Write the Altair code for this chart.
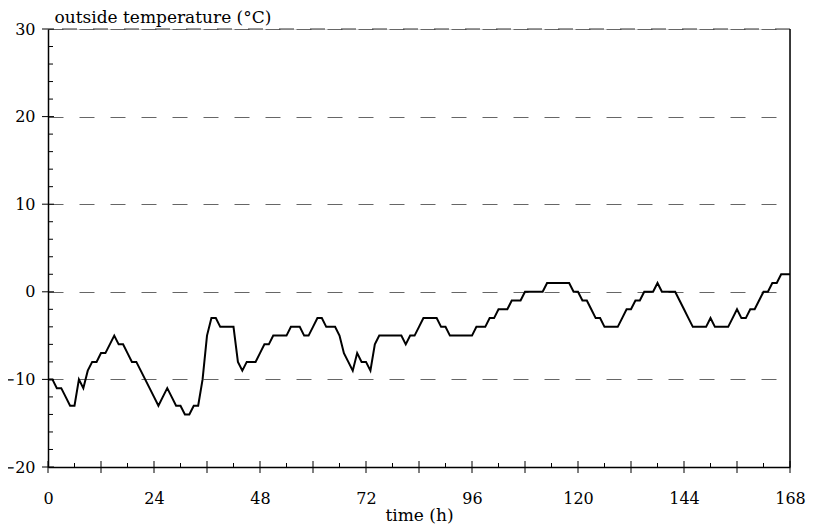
import altair as alt
import pandas as pd

# hourly outside temperature (°C), hours 0..168
hours = list(range(169))
temps = [
    -10, -10, -11, -11, -12, -13, -13, -10, -11, -9,
    -8, -8, -7, -7, -6, -5, -6, -6, -7, -8,
    -8, -9, -10, -11, -12, -13, -12, -11, -12, -13,
    -13, -14, -14, -13, -13, -10, -5, -3, -3, -4,
    -4, -4, -4, -8, -9, -8, -8, -8, -7, -6,
    -6, -5, -5, -5, -5, -4, -4, -4, -5, -5,
    -4, -3, -3, -4, -4, -4, -5, -7, -8, -9,
    -7, -8, -8, -9, -6, -5, -5, -5, -5, -5,
    -5, -6, -5, -5, -4, -3, -3, -3, -3, -4,
    -4, -5, -5, -5, -5, -5, -5, -4, -4, -4,
    -3, -3, -2, -2, -2, -1, -1, -1, 0, 0,
    0, 0, 0, 1, 1, 1, 1, 1, 1, 0,
    0, -1, -1, -2, -3, -3, -4, -4, -4, -4,
    -3, -2, -2, -1, -1, 0, 0, 0, 1, 0,
    0, 0, 0, -1, -2, -3, -4, -4, -4, -4,
    -3, -4, -4, -4, -4, -3, -2, -3, -3, -2,
    -2, -1, 0, 0, 1, 1, 2, 2, 2,
]

x_labels = [0, 24, 48, 72, 96, 120, 144, 168]
x_major = [0, 12, 24, 36, 48, 60, 72, 84, 96, 108, 120, 132, 144, 156, 168]
x_minor = [6, 18, 30, 42, 54, 66, 78, 90, 102, 114, 126, 138, 150, 162]
y_labels = [-20, -10, 0, 10, 20, 30]
y_minor = [-18, -16, -14, -12, -8, -6, -4, -2, 2, 4, 6, 8, 12, 14, 16, 18, 22, 24, 26, 28]

W, H = 742, 438
FONT = "DejaVu Serif"

xscale = alt.Scale(domain=[0, 168], nice=False, zero=False)
yscale = alt.Scale(domain=[-20, 30], nice=False, zero=False)

x_axis = alt.Axis(
    values=x_labels, title="time (h)", grid=False, ticks=False, tickSize=0,
    labelPadding=36, labelBaseline="alphabetic", labelFont=FONT, labelFontSize=16,
    labelColor="black", titleFont=FONT, titleFontSize=17, titleFontWeight="normal",
    titleColor="black", titleY=53, titleBaseline="alphabetic",
    domainColor="black", domainWidth=1.5, labelFlush=False)
y_axis = alt.Axis(
    values=y_labels, title="outside temperature (°C)", grid=True, gridColor="#666",
    gridDash=[15, 16], gridWidth=1, ticks=False, tickSize=0, labelPadding=13,
    labelFont=FONT, labelFontSize=16, labelColor="black", titleFont=FONT,
    titleFontSize=17, titleFontWeight="normal", titleColor="black", titleAngle=0,
    titleAlign="left", titleBaseline="alphabetic", titleX=6, titleY=-7,
    domainColor="black", domainWidth=1.5, labelFlush=False)

df = pd.DataFrame({"hour": hours, "temp": temps})

line = alt.Chart(df).mark_line(color="black", strokeWidth=2).encode(
    x=alt.X("hour:Q", scale=xscale, axis=x_axis),
    y=alt.Y("temp:Q", scale=yscale, axis=y_axis),
)

top = alt.Chart(pd.DataFrame({"v": [30]})).mark_rule(
    color="#333", strokeDash=[15, 16], strokeWidth=1).encode(
    y=alt.Y("v:Q", scale=yscale, axis=y_axis))

right = alt.Chart(pd.DataFrame({"v": [168]})).mark_rule(
    color="black", strokeWidth=1.5).encode(
    x=alt.X("v:Q", scale=xscale, axis=x_axis))

ymaj = alt.Chart(pd.DataFrame({"v": y_labels})).mark_rule(color="black", strokeWidth=1).encode(
    y=alt.Y("v:Q", scale=yscale, axis=y_axis), x=alt.value(-6), x2=alt.value(6))
ymin = alt.Chart(pd.DataFrame({"v": y_minor})).mark_rule(color="black", strokeWidth=1).encode(
    y=alt.Y("v:Q", scale=yscale, axis=y_axis), x=alt.value(0), x2=alt.value(5))
xmaj = alt.Chart(pd.DataFrame({"v": x_major})).mark_rule(color="black", strokeWidth=1).encode(
    x=alt.X("v:Q", scale=xscale, axis=x_axis), y=alt.value(H - 6), y2=alt.value(H + 6))
xmin = alt.Chart(pd.DataFrame({"v": x_minor})).mark_rule(color="black", strokeWidth=1).encode(
    x=alt.X("v:Q", scale=xscale, axis=x_axis), y=alt.value(H - 4), y2=alt.value(H))

chart = alt.layer(top, right, ymaj, ymin, xmaj, xmin, line).properties(
    width=W, height=H,
    autosize=alt.AutoSizeParams(type="none"),
    padding={"left": 40, "top": 21, "right": 16, "bottom": 57},
).configure_view(stroke="#999", strokeWidth=1).configure(background="white")

chart.save("out.html", embed_options={"renderer": "svg", "actions": False})
